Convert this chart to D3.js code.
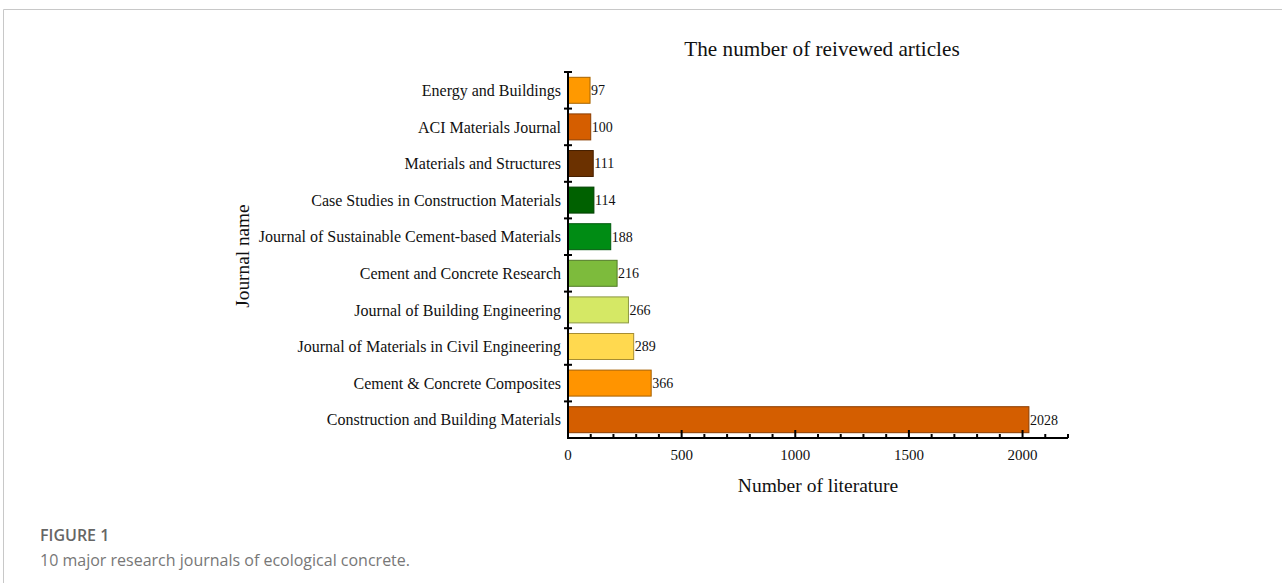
<!DOCTYPE html>
<html>
<head>
<meta charset="utf-8">
<script src="https://cdn.jsdelivr.net/npm/d3@7"></script>
<style>
	body { margin: 0; background: #fff; }
	svg { display: block; }
</style>
</head>
<body>
<script>
// data, top bar first
var journals = ["Energy and Buildings", "ACI Materials Journal", "Materials and Structures",
	"Case Studies in Construction Materials", "Journal of Sustainable Cement-based Materials",
	"Cement and Concrete Research", "Journal of Building Engineering",
	"Journal of Materials in Civil Engineering", "Cement & Concrete Composites",
	"Construction and Building Materials"];
var counts = [97, 100, 111, 114, 188, 216, 266, 289, 366, 2028];
var colours = ["#ff9900", "#d55e00", "#6b3100", "#006100", "#008c14",
	"#7dbb3c", "#d5e865", "#ffd94f", "#ff9400", "#d45e00"];
var xTicks = [0, 500, 1000, 1500, 2000];

var W = 1282, H = 583;
var serif = "'Liberation Serif', 'Times New Roman', serif";

var svg = d3.select("body").append("svg")
	.attr("width", W)
	.attr("height", H);

// card border
svg.append("path")
	.attr("d", "M3.5," + H + "V9.5H" + W)
	.attr("fill", "none")
	.attr("stroke", "#c8c8c8")
	.attr("stroke-width", 1);

var pl = 568, pr = 1068, pt = 72, pb = 438;

var x = d3.scaleLinear().domain([0, 2200]).range([pl, pr]);
var y = d3.scaleBand().domain(journals).range([pt, pb]).paddingInner(0.29).paddingOuter(0.145);

var rows = journals.map(function (j, i) { return { name: j, value: counts[i], colour: colours[i] }; });

svg.selectAll("rect.bar")
	.data(rows)
	.enter().append("rect")
		.attr("class", "bar")
		.attr("x", x(0))
		.attr("y", function (d) { return y(d.name); })
		.attr("width", function (d) { return x(d.value) - x(0); })
		.attr("height", y.bandwidth())
		.attr("fill", function (d) { return d.colour; })
		.attr("stroke", function (d) { return d3.color(d.colour).darker(1.2); })
		.attr("stroke-width", 1);

svg.selectAll("text.val")
	.data(rows)
	.enter().append("text")
		.attr("class", "val")
		.attr("x", function (d) { return x(d.value) + 1; })
		.attr("y", function (d) { return y(d.name) + y.bandwidth() / 2; })
		.attr("dy", "0.35em")
		.attr("font-family", serif)
		.attr("font-size", 14)
		.attr("fill", "#111")
		.text(function (d) { return d.value; });

// y axis: line, boundary ticks, labels
var yg = svg.append("g").attr("stroke", "#000");
yg.append("line")
	.attr("x1", pl).attr("x2", pl)
	.attr("y1", pt).attr("y2", pb)
	.attr("stroke-width", 2);
yg.selectAll("line.bt")
	.data(d3.range(journals.length))
	.enter().append("line")
		.attr("class", "bt")
		.attr("x1", pl - 4).attr("x2", pl + 4)
		.attr("y1", function (i) { return y(journals[i]) - y.step() * y.paddingInner() / 2; })
		.attr("y2", function (i) { return y(journals[i]) - y.step() * y.paddingInner() / 2; })
		.attr("stroke-width", 2);

svg.selectAll("text.cat")
	.data(journals)
	.enter().append("text")
		.attr("class", "cat")
		.attr("x", pl - 7)
		.attr("y", function (d) { return y(d) + y.bandwidth() / 2; })
		.attr("dy", "0.35em")
		.attr("text-anchor", "end")
		.attr("font-family", serif)
		.attr("font-size", 16)
		.attr("fill", "#111")
		.text(function (d) { return d; });

// x axis with minor ticks every 100
var xg = svg.append("g").attr("stroke", "#000");
xg.append("line")
	.attr("x1", pl - 1).attr("x2", pr)
	.attr("y1", pb).attr("y2", pb)
	.attr("stroke-width", 2);
xg.selectAll("line.mt")
	.data(d3.range(0, 2201, 100))
	.enter().append("line")
		.attr("class", "mt")
		.attr("x1", function (d) { return x(d); })
		.attr("x2", function (d) { return x(d); })
		.attr("y1", pb)
		.attr("y2", function (d) { return d % 500 === 0 ? pb - 8 : pb - 4; })
		.attr("stroke-width", 2);

svg.selectAll("text.xt")
	.data(xTicks)
	.enter().append("text")
		.attr("class", "xt")
		.attr("x", function (d) { return x(d); })
		.attr("y", 460)
		.attr("text-anchor", "middle")
		.attr("font-family", serif)
		.attr("font-size", 15)
		.attr("fill", "#111")
		.text(function (d) { return d; });

svg.append("text")
	.attr("x", 822).attr("y", 56)
	.attr("text-anchor", "middle")
	.attr("font-family", serif)
	.attr("font-size", 21.2)
	.attr("fill", "#111")
	.text("The number of reivewed articles");

svg.append("text")
	.attr("x", 818).attr("y", 492)
	.attr("text-anchor", "middle")
	.attr("font-family", serif)
	.attr("font-size", 19.5)
	.attr("fill", "#111")
	.text("Number of literature");

svg.append("text")
	.attr("transform", "translate(249,256) rotate(-90)")
	.attr("text-anchor", "middle")
	.attr("font-family", serif)
	.attr("font-size", 19.3)
	.attr("fill", "#111")
	.text("Journal name");

// caption
svg.append("text")
	.attr("x", 40).attr("y", 541)
	.attr("font-family", "'Open Sans', sans-serif")
	.attr("font-size", 16)
	.attr("font-weight", 600)
	.attr("fill", "#666")
	.text("FIGURE 1");
svg.append("text")
	.attr("x", 40).attr("y", 566)
	.attr("font-family", "'Open Sans', sans-serif")
	.attr("font-size", 16)
	.attr("fill", "#777")
	.text("10 major research journals of ecological concrete.");
</script>
</body>
</html>
